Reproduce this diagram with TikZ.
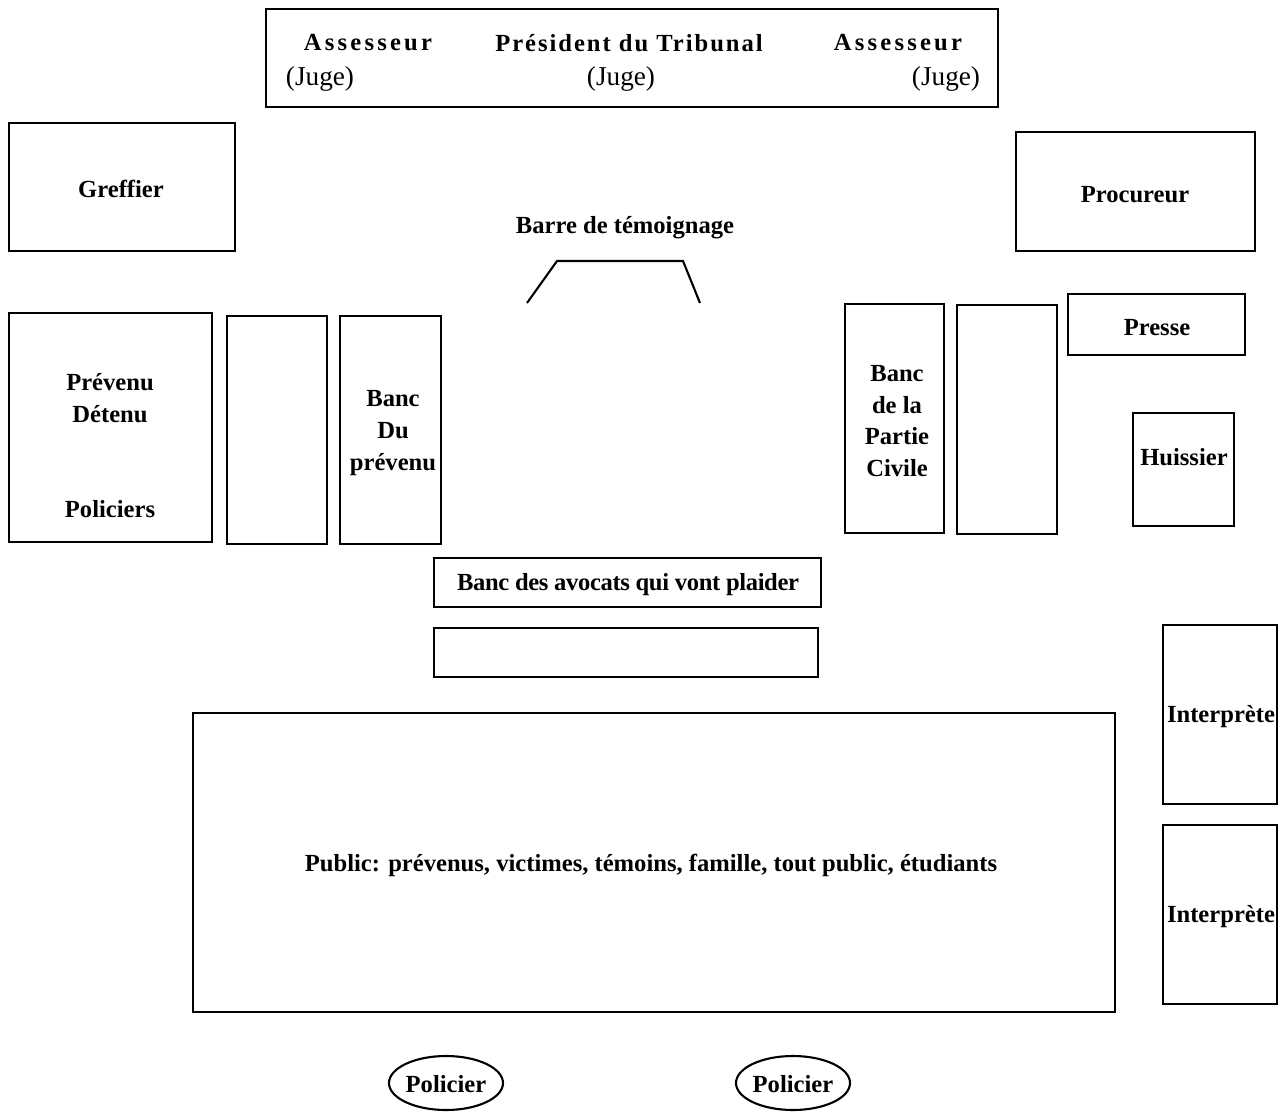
\documentclass[tikz,border=0pt]{standalone}
\usepackage{fontspec}
\setmainfont{Liberation Serif}
\newfontfamily\spacedfont[LetterSpace=13]{Liberation Serif}
\newfontfamily\presfont[LetterSpace=8]{Liberation Serif}

\tikzstyle{every picture}+=[x=0.02cm,y=-0.02cm]
\tikzstyle{box}=[draw,line width=1.2pt]
\tikzstyle{lbl}=[font=\fontsize{14}{18}\selectfont\bfseries,inner sep=0pt,align=center]
\tikzstyle{juge}=[font=\fontsize{15.5}{18}\selectfont,inner sep=0pt]

\begin{document}
\begin{tikzpicture}
\useasboundingbox (0,0) rectangle (1282,1113);

% les juges
\draw[box] (266,9) rectangle (998,107);
\node[lbl,font=\fontsize{14}{18}\selectfont\spacedfont\bfseries] (ass1) at (368,43) {Assesseur};
\node[lbl,font=\fontsize{14}{18}\selectfont\presfont\bfseries] (pres) at (629,43) {Président du Tribunal};
\node[lbl,font=\fontsize{14}{18}\selectfont\spacedfont\bfseries] (ass2) at (898,43) {Assesseur};
\node[juge] (j1) at (320,79) {(Juge)};
\node[juge] (j2) at (621,79) {(Juge)};
\node[juge] (j3) at (946,79) {(Juge)};

\draw[box] (9,123) rectangle (235,251);
\node[lbl] (greffier) at (121,189) {Greffier};
\draw[box] (1016,132) rectangle (1255,251);
\node[lbl] (procureur) at (1135,195) {Procureur};

% barre
\node[lbl] (barre) at (625,228) {Barre de témoignage};
\draw[line width=1.2pt] (527,303) -- (557,261) -- (683,261) -- (700,303);

% cote gauche
\draw[box] (9,313) rectangle (212,542);
\node[lbl] (prevenu) at (110,398) {Prévenu\\Détenu};
\node[lbl] (policiers) at (110,509) {Policiers};
\draw[box] (227,316) rectangle (327,544);
\draw[box] (340,316) rectangle (441,544);
\node[lbl] (bancprev) at (393,433) {Banc\\Du\\prévenu};

% cote droit
\draw[box] (845,304) rectangle (944,533);
\node[lbl] (partie) at (897,421) {Banc\\de la\\Partie\\Civile};
\draw[box] (957,305) rectangle (1057,534);
\draw[box] (1068,294) rectangle (1245,355);
\node[lbl] (presse) at (1157,328) {Presse};
\draw[box] (1133,413) rectangle (1234,526);
\node[lbl] (huissier) at (1184,457) {Huissier};

% avocats
\draw[box] (434,558) rectangle (821,607);
\node[lbl,font=\fontsize{14}{18}\selectfont\bfseries\addfontfeature{LetterSpace=-1.5}] (avocats) at (628,585) {Banc des avocats qui vont plaider};
\draw[box] (434,628) rectangle (818,677);

% interpretes
\draw[box] (1163,625) rectangle (1277,804);
\node[lbl] (interp1) at (1221,717) {Interprète};
\draw[box] (1163,825) rectangle (1277,1004);
\node[lbl] (interp2) at (1221,917) {Interprète};

% public
\draw[box] (193,713) rectangle (1115,1012);
\node[lbl] (public) at (651,865) {Public: prévenus, victimes, témoins, famille, tout public, étudiants};

\draw[box] (446,1083) ellipse (57 and 27);
\node[lbl] (pol1) at (446,1084) {Policier};
\draw[box] (793,1083) ellipse (57 and 27);
\node[lbl] (pol2) at (793,1084) {Policier};

\end{tikzpicture}
\end{document}
